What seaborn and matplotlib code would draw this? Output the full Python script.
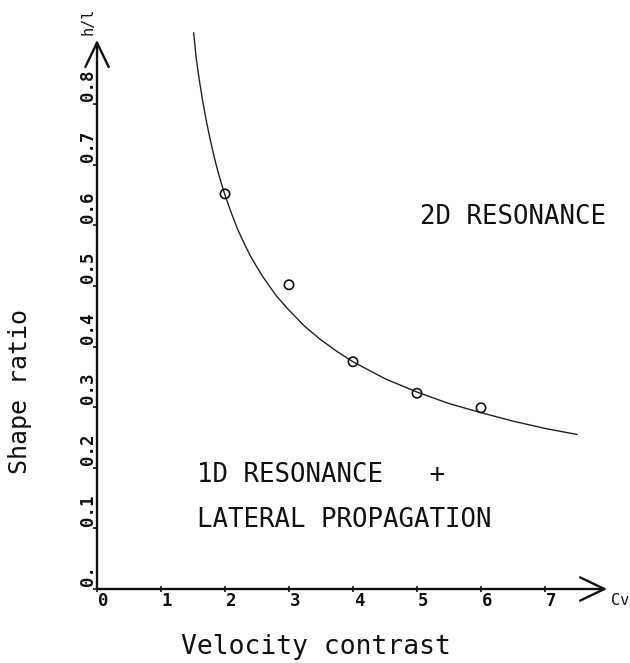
import matplotlib
matplotlib.use("Agg")
import matplotlib.pyplot as plt
from matplotlib.transforms import offset_copy
import seaborn as sns

# Observed critical shape ratios
cv_obs = [2, 3, 4, 5, 6]
hl_obs = [0.652, 0.502, 0.375, 0.323, 0.299]

# Theoretical boundary between 1D and 2D resonance
cv_curve = [1.51, 1.55, 1.6, 1.65, 1.7, 1.75, 1.8, 1.85, 1.9, 1.95, 2.0,
            2.1, 2.2, 2.3, 2.4, 2.5, 2.6, 2.8, 3.0, 3.25, 3.5, 3.75, 4.0,
            4.5, 5.0, 5.5, 6.0, 6.5, 7.0, 7.5]
hl_curve = [0.918, 0.876, 0.839, 0.806, 0.777, 0.751, 0.727, 0.705, 0.685,
            0.667, 0.650, 0.620, 0.593, 0.570, 0.549, 0.531, 0.514, 0.484,
            0.460, 0.433, 0.411, 0.392, 0.375, 0.347, 0.325, 0.306, 0.291,
            0.277, 0.265, 0.255]

x_ticks = [0, 1, 2, 3, 4, 5, 6, 7]
x_labels = ["0", "1", "2", "3", "4", "5", "6", "7"]
y_ticks = [0.0, 0.1, 0.2, 0.3, 0.4, 0.5, 0.6, 0.7, 0.8]
y_labels = ["0.", "0.1", "0.2", "0.3", "0.4", "0.5", "0.6", "0.7", "0.8"]

sns.set_style("white")
plt.rcParams["font.family"] = ["DejaVu Sans Mono", "DejaVu Sans"]

fig = plt.figure(figsize=(6.3, 6.63), dpi=100)
ax = fig.add_axes([97 / 630, 74 / 663, 512 / 630, 0.95 * 606 / 663])
ax.set_xlim(0, 8.0)
ax.set_ylim(0, 0.95)
for s in ax.spines.values():
    s.set_visible(False)

ink = "#111111"

sns.lineplot(x=cv_curve, y=hl_curve, color="#222222", linewidth=1.0,
             sort=False, ax=ax)
sns.scatterplot(x=cv_obs, y=hl_obs, marker="o", s=45, facecolor="none",
                edgecolor=ink, linewidth=1.2, ax=ax, zorder=5)

# Axes drawn as arrows
arrow = dict(arrowstyle="->,head_length=1.25,head_width=0.6",
             color=ink, lw=1.7, mutation_scale=14, shrinkA=0, shrinkB=0)
ax.annotate("", xy=(7.97, 0), xytext=(0, 0), arrowprops=arrow,
            annotation_clip=False)
ax.annotate("", xy=(0, 0.906), xytext=(0, 0), arrowprops=arrow,
            annotation_clip=False)

ax.set_xticks(x_ticks)
ax.set_yticks(y_ticks)
ax.tick_params(axis="x", direction="inout", length=5, width=1.2,
               color=ink, labelbottom=False, bottom=True)
ax.tick_params(axis="y", direction="out", length=3, width=1.2,
               color=ink, labelleft=False, left=True)
ax.set_xlabel("")
ax.set_ylabel("")

tick_font = dict(fontsize=12.5, fontweight="bold", color=ink)
xt = offset_copy(ax.get_xaxis_transform(), fig=fig, x=4.3, y=-8.6,
                 units="points")
for v, lab in zip(x_ticks, x_labels):
    ax.text(v, 0, lab, transform=xt, ha="center", va="center", **tick_font)

yt = offset_copy(ax.get_yaxis_transform(), fig=fig, x=-6.5, y=2.0,
                 units="points")
for v, lab in zip(y_ticks, y_labels):
    ax.text(0, v, lab, transform=yt, ha="center", va="bottom",
            rotation=90, **tick_font)

# Axis names at the arrow tips
ax.text(7.98, 0, "Cv", transform=offset_copy(ax.transData, fig=fig,
        x=2.5, y=-8.6, units="points"), ha="left", va="center",
        fontsize=11, color=ink, clip_on=False)
ax.text(0, 0.936, "h/l", transform=offset_copy(ax.transData, fig=fig,
        x=-6.5, units="points"), ha="center", va="center", rotation=90,
        fontsize=11, color=ink, clip_on=False)

# Region labels
region_font = dict(fontsize=18.5, color=ink, ha="left", va="center")
ax.text(420 / 630, 1 - 217 / 663, "2D RESONANCE", transform=fig.transFigure,
        **region_font)
ax.text(197 / 630, 1 - 475 / 663, "1D RESONANCE   +",
        transform=fig.transFigure, **region_font)
ax.text(197 / 630, 1 - 520 / 663, "LATERAL PROPAGATION",
        transform=fig.transFigure, **region_font)

fig.text(316 / 630, 1 - 647 / 663, "Velocity contrast", ha="center",
         va="center", fontsize=19, color=ink)
fig.text(20 / 630, 1 - 391 / 663, "Shape ratio", ha="center", va="center",
         rotation=90, fontsize=18, color=ink)

fig.savefig("out.png", dpi=100, facecolor="white")
